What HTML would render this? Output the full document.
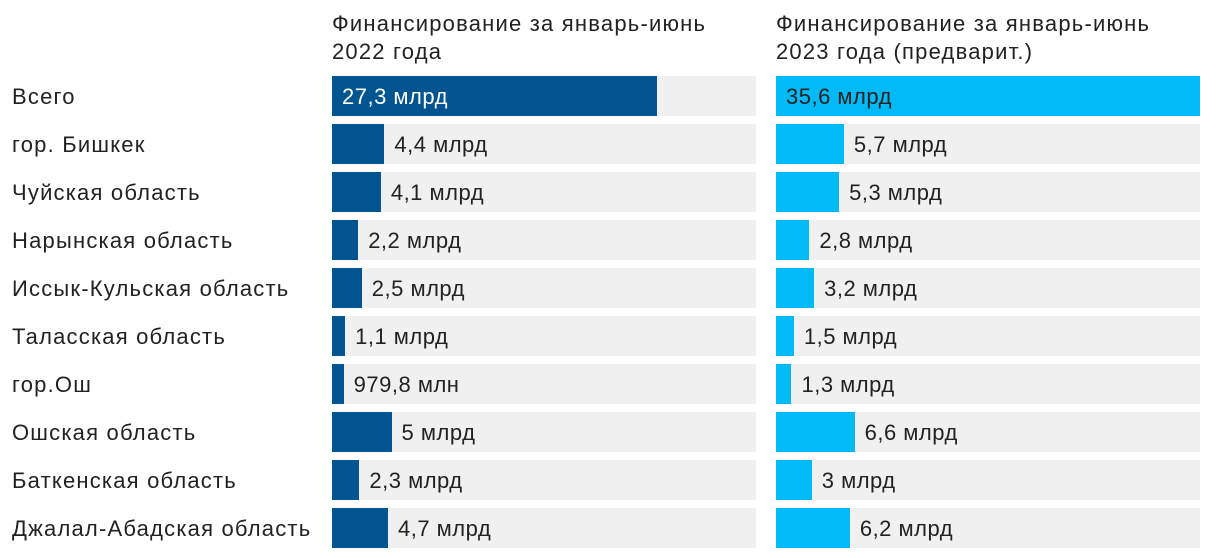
<!DOCTYPE html>
<html><head><meta charset="utf-8">
<style>
body{margin:0;background:#fff;font-family:"Liberation Sans","Noto Sans CJK SC",sans-serif;}
#wrap{position:relative;width:1220px;height:558px;overflow:hidden;}
.title{position:absolute;top:10px;font-size:22px;letter-spacing:1.2px;line-height:28px;color:#222;white-space:nowrap;}
.lab{position:absolute;left:12px;font-size:22px;letter-spacing:1.2px;color:#222;line-height:42px;white-space:nowrap;}
.bg{position:absolute;background:#f0f0f0;height:40px;width:424px;}
.bar{position:absolute;height:40px;}
.val{position:absolute;font-size:22px;letter-spacing:0.5px;line-height:42px;color:#222;white-space:nowrap;}
</style></head><body>
<div id="wrap">
<div class="title" style="left:332px">Финансирование за январь-июнь<br>2022 года</div>
<div class="title" style="left:776px">Финансирование за январь-июнь<br>2023 года (предварит.)</div>
</div>
<script>
const categories=["Всего","гор. Бишкек","Чуйская область","Нарынская область","Иссык-Кульская область","Таласская область","гор.Ош","Ошская область","Баткенская область","Джалал-Абадская область"];
const values2022=[27.3,4.4,4.1,2.2,2.5,1.1,0.9798,5,2.3,4.7];
const labels2022=["27,3 млрд","4,4 млрд","4,1 млрд","2,2 млрд","2,5 млрд","1,1 млрд","979,8 млн","5 млрд","2,3 млрд","4,7 млрд"];
const values2023=[35.6,5.7,5.3,2.8,3.2,1.5,1.3,6.6,3,6.2];
const labels2023=["35,6 млрд","5,7 млрд","5,3 млрд","2,8 млрд","3,2 млрд","1,5 млрд","1,3 млрд","6,6 млрд","3 млрд","6,2 млрд"];
const wrap=document.getElementById('wrap');
const maxV=Math.max(...values2022,...values2023);
const W=424;
function x(v){return v/maxV*W;}
function y(i){return 76+48*i;}
function panel(x0,vals,labs,color,inColor,key){
  vals.forEach((v,i)=>{
    const bg=document.createElement('div');bg.className='bg';
    bg.style.left=x0+'px';bg.style.top=y(i)+'px';
    
    
    wrap.appendChild(bg);
    const w=x(v);
    const b=document.createElement('div');b.className='bar';
    b.style.left=x0+'px';b.style.top=y(i)+'px';b.style.width=w+'px';b.style.background=color;
    
    
    wrap.appendChild(b);
    const t=document.createElement('div');t.className='val';t.textContent=labs[i];
    t.style.top=y(i)+'px';
    if(w>150){t.style.left=(x0+10)+'px';t.style.color=inColor;}
    else{t.style.left=(x0+w+10)+'px';}
    
    
    wrap.appendChild(t);
  });
}
categories.forEach((c,i)=>{
  const l=document.createElement('div');l.className='lab';l.textContent=c;l.style.top=y(i)+'px';
  
  
  wrap.appendChild(l);
});
panel(332,values2022,labels2022,'#00548f','#fff','2022');
panel(776,values2023,labels2023,'#00b9f7','#222','2023');
</script>
</body></html>
